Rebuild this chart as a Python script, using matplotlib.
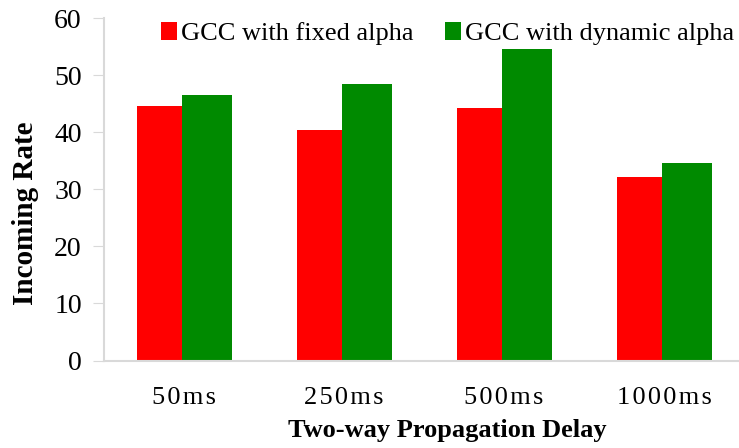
import numpy as np
import matplotlib.pyplot as plt

plt.rcParams['font.family'] = ['Liberation Serif', 'DejaVu Serif']

delays = ["50ms", "250ms", "500ms", "1000ms"]
fixed_alpha = [44.6, 40.4, 44.2, 32.1]
dynamic_alpha = [46.5, 48.4, 54.6, 34.6]

fig = plt.figure(figsize=(7.39, 4.48), dpi=100)
ax = fig.add_axes([104 / 739, (448 - 360.5) / 448, 640 / 739, 342.5 / 448])

x = np.arange(len(delays))
ax.bar(x - 0.295, fixed_alpha, width=0.283, align='edge', color='#FF0000',
       label='GCC with fixed alpha')
ax.bar(x - 0.0125, dynamic_alpha, width=0.3125, align='edge', color='#008A00',
       label='GCC with dynamic alpha')

ax.set_xlim(-0.5, 3.5)
ax.set_ylim(0, 60)
ax.set_yticks(range(0, 61, 10))
ax.set_xticks(x)
ax.set_xticklabels(["\u200a".join(d) for d in delays], fontsize=19)
ax.tick_params(axis='y', labelsize=20, length=8, color='#D9D9D9', pad=8)
ax.tick_params(axis='x', length=0, pad=19)

for s in ['top', 'right']:
    ax.spines[s].set_visible(False)
for s in ['left', 'bottom']:
    ax.spines[s].set_color('#D9D9D9')
    ax.spines[s].set_linewidth(1.5)

ax.set_ylabel('Incoming Rate', fontsize=21, fontweight='bold')
ax.yaxis.set_label_coords(-0.102, 0.43)
ax.set_xlabel('Two-way Propagation Delay', fontsize=19, fontweight='bold')
ax.xaxis.set_label_coords(0.536, -0.172)

ax.legend(loc='upper left', bbox_to_anchor=(0.072, 1.02), ncol=2, frameon=False,
          fontsize=19, handlelength=0.62, handleheight=0.68, handletextpad=0.15,
          columnspacing=1.2, borderaxespad=0)

fig.savefig('out.png', dpi=100)
